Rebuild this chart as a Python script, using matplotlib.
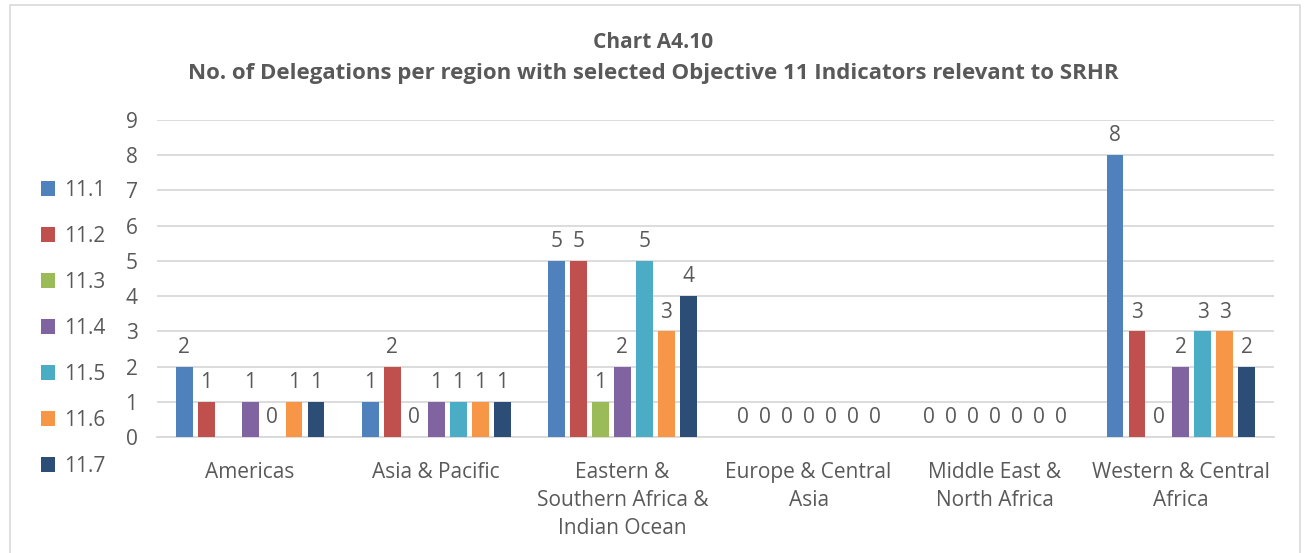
import numpy as np
import matplotlib
matplotlib.use("Agg")
import matplotlib.pyplot as plt
from matplotlib.patches import Rectangle

regions = ["Americas", "Asia & Pacific", "Eastern &\nSouthern Africa &\nIndian Ocean",
           "Europe & Central\nAsia", "Middle East &\nNorth Africa", "Western & Central\nAfrica"]
indicators = ["11.1", "11.2", "11.3", "11.4", "11.5", "11.6", "11.7"]
# rows = indicator, cols = region; None = blank (no bar, no label)
values = [
    [2, 1, 5, 0, 0, 8],
    [1, 2, 5, 0, 0, 3],
    [None, 0, 1, 0, 0, 0],
    [1, 1, 2, 0, 0, 2],
    [0, 1, 5, 0, 0, 3],
    [1, 1, 3, 0, 0, 3],
    [1, 1, 4, 0, 0, 2],
]
colors = ["#4F81BD", "#C0504D", "#9BBB59", "#8064A2", "#4BACC6", "#F79646", "#2C4D75"]

txt = "#595959"
grid = "#D9D9D9"
font = "Open Sans"

fig = plt.figure(figsize=(13.06, 5.53), dpi=100)
fig.patches.append(Rectangle((10 / 1306, -0.01), 1290 / 1306, 1.0 - 5 / 553 + 0.01,
                             transform=fig.transFigure, fill=False, edgecolor="#D9D9D9", lw=1.2))

ax = fig.add_axes([157 / 1306, 1 - 437 / 553, (1274 - 157) / 1306, (437 - 120) / 553])

x = np.arange(len(regions))
pitch = 0.118
width = 0.091
n = len(indicators)
for i, (lab, vals, c) in enumerate(zip(indicators, values, colors)):
    off = (i - (n - 1) / 2) * pitch
    v = np.array([np.nan if a is None else a for a in vals], dtype=float)
    ax.bar(x + off, np.nan_to_num(v), width, color=c, label=lab, zorder=3)
    for xi, vi in zip(x + off, v):
        if np.isnan(vi):
            continue
        ax.text(xi, vi + 0.25, f"{int(vi)}", ha="center", va="bottom",
                fontsize=15, color=txt, family=font)

ax.set_ylim(0, 9)
ax.set_xlim(-0.5, len(regions) - 0.5)
ax.set_yticks(range(0, 10))
ax.set_xticks(x)
ax.set_xticklabels(regions, fontsize=15, color=txt, family=font, linespacing=1.45)
ax.tick_params(axis="both", length=0, colors=txt, labelsize=15)
ax.tick_params(axis="y", pad=14)
ax.tick_params(axis="x", pad=18)
for t in ax.get_yticklabels():
    t.set_family(font)
ax.yaxis.grid(True, color=grid, lw=1.3, zorder=0)
for s in ["top", "right", "left"]:
    ax.spines[s].set_visible(False)
ax.spines["bottom"].set_color(grid)
ax.spines["bottom"].set_linewidth(1.3)

fig.text(0.5, 1 - 42 / 553, "Chart A4.10", ha="center", va="center",
         fontsize=15, fontweight="bold", color=txt, family=font)
fig.text(0.5, 1 - 74 / 553,
         "No. of Delegations per region with selected Objective 11 Indicators relevant to SRHR",
         ha="center", va="center", fontsize=16, fontweight="bold", color=txt, family=font)

leg = fig.legend(loc="upper left", bbox_to_anchor=(22 / 1306, 1 - 161 / 553), frameon=False,
                 prop={"family": font, "size": 15}, labelcolor=txt, handlelength=0.7,
                 handleheight=0.7, labelspacing=1.2, handletextpad=0.4)

fig.savefig("out.png", dpi=100)
